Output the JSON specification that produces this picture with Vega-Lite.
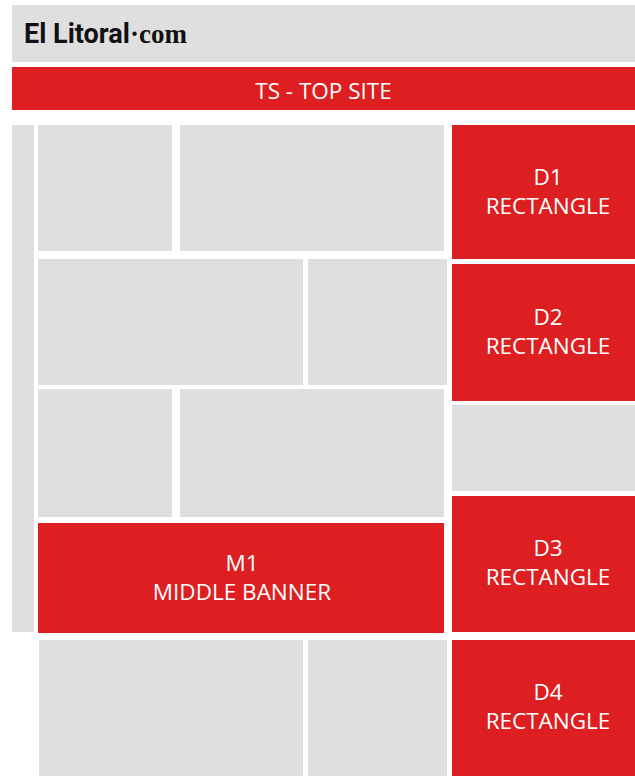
{
  "$schema": "https://vega.github.io/schema/vega-lite/v6.json",
  "autosize": {"type": "fit", "contains": "padding"},
  "width": 635,
  "height": 776,
  "padding": 0,
  "background": "#ffffff",
  "config": {"view": {"stroke": null}},
  "datasets": {
    "blocks": [
      {"name": "header", "kind": "content", "x": 12, "x2": 635, "y": 5, "y2": 62},
      {"name": "TS", "kind": "ad", "x": 12, "x2": 635, "y": 67, "y2": 110},
      {"name": "side", "kind": "content", "x": 12, "x2": 34, "y": 125, "y2": 632},
      {"name": "r1a", "kind": "content", "x": 38, "x2": 172, "y": 125, "y2": 251},
      {"name": "r1b", "kind": "content", "x": 180, "x2": 444, "y": 125, "y2": 251},
      {"name": "r2a", "kind": "content", "x": 38, "x2": 303, "y": 259, "y2": 385},
      {"name": "r2b", "kind": "content", "x": 308, "x2": 447, "y": 259, "y2": 385},
      {"name": "r3a", "kind": "content", "x": 38, "x2": 172, "y": 389, "y2": 517},
      {"name": "r3b", "kind": "content", "x": 180, "x2": 444, "y": 389, "y2": 517},
      {"name": "M1", "kind": "ad", "x": 38, "x2": 444, "y": 523, "y2": 633},
      {"name": "r5a", "kind": "content", "x": 39, "x2": 303, "y": 640, "y2": 776},
      {"name": "r5b", "kind": "content", "x": 308, "x2": 447, "y": 640, "y2": 776},
      {"name": "D1", "kind": "ad", "x": 452, "x2": 635, "y": 125, "y2": 259},
      {"name": "D2", "kind": "ad", "x": 452, "x2": 635, "y": 264, "y2": 401},
      {"name": "gap", "kind": "content", "x": 452, "x2": 635, "y": 405, "y2": 491},
      {"name": "D3", "kind": "ad", "x": 452, "x2": 635, "y": 496, "y2": 632},
      {"name": "D4", "kind": "ad", "x": 452, "x2": 635, "y": 640, "y2": 776}
    ],
    "labels": [
      {"text": "TS - TOP SITE", "cx": 323.5, "cy": 92},
      {"text": "D1\nRECTANGLE", "cx": 548, "cy": 178},
      {"text": "D2\nRECTANGLE", "cx": 548, "cy": 318},
      {"text": "D3\nRECTANGLE", "cx": 548, "cy": 549},
      {"text": "D4\nRECTANGLE", "cx": 548, "cy": 693},
      {"text": "M1\nMIDDLE BANNER", "cx": 242, "cy": 564}
    ],
    "logo": [
      {"text": "El Litoral", "cx": 24, "cy": 35, "part": "a"},
      {"text": "·com", "cx": 130, "cy": 35, "part": "b"}
    ]
  },
  "layer": [
    {
      "data": {"name": "blocks"},
      "mark": {"type": "rect"},
      "encoding": {
        "x": {"field": "x", "type": "quantitative", "scale": {"domain": [0, 635], "nice": false, "zero": false}, "axis": null},
        "x2": {"field": "x2"},
        "y": {"field": "y", "type": "quantitative", "scale": {"domain": [0, 776], "nice": false, "zero": false, "reverse": true}, "axis": null},
        "y2": {"field": "y2"},
        "color": {"field": "kind", "type": "nominal", "scale": {"domain": ["content", "ad"], "range": ["#dfdfdf", "#dd1f21"]}, "legend": null}
      }
    },
    {
      "data": {"name": "labels"},
      "mark": {"type": "text", "font": "Open Sans", "fontSize": 22.5, "color": "#ffffff", "align": "center", "baseline": "middle", "lineBreak": "\n", "lineHeight": 28.5},
      "encoding": {
        "x": {"field": "cx", "type": "quantitative"},
        "y": {"field": "cy", "type": "quantitative"},
        "text": {"field": "text", "type": "nominal"}
      }
    },
    {
      "data": {"name": "logo"},
      "transform": [{"filter": "datum.part == 'a'"}],
      "mark": {"type": "text", "font": "Roboto", "fontWeight": "bold", "fontSize": 27, "color": "#111111", "align": "left", "baseline": "middle"},
      "encoding": {
        "x": {"field": "cx", "type": "quantitative"},
        "y": {"field": "cy", "type": "quantitative"},
        "text": {"field": "text", "type": "nominal"}
      }
    },
    {
      "data": {"name": "logo"},
      "transform": [{"filter": "datum.part == 'b'"}],
      "mark": {"type": "text", "font": "Liberation Serif", "fontWeight": "bold", "fontSize": 27, "color": "#111111", "align": "left", "baseline": "middle"},
      "encoding": {
        "x": {"field": "cx", "type": "quantitative"},
        "y": {"field": "cy", "type": "quantitative"},
        "text": {"field": "text", "type": "nominal"}
      }
    }
  ]
}
